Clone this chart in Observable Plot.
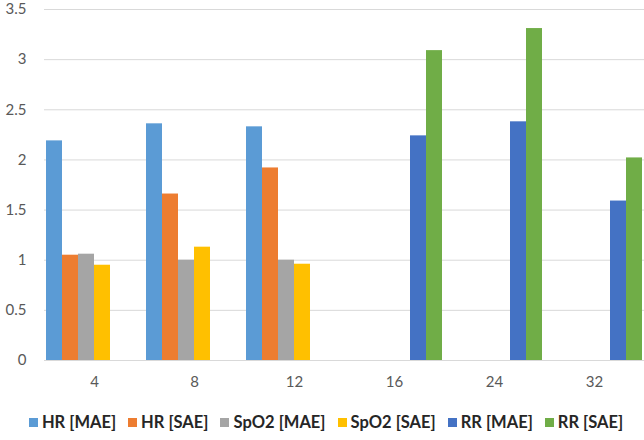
<!DOCTYPE html>
<html>
<head>
<meta charset="utf-8">
<script src="https://cdn.jsdelivr.net/npm/d3@7"></script>
<script src="https://cdn.jsdelivr.net/npm/@observablehq/plot@0.6"></script>
<style>
  body { margin: 0; background: #fff; font-family: Lato, "Open Sans", sans-serif; }
  #chart { width: 644px; }
  .legend { display: flex; justify-content: center; gap: 12px; margin-top: 12px; font-weight: bold; font-size: 16.5px; color: #262626; padding-left: 8px; }
  .legend .item { display: flex; align-items: center; gap: 4px; }
  .legend .sw { width: 9px; height: 9px; display: inline-block; }
</style>
</head>
<body>
<div id="chart"></div>
<script>
const categories = ["4", "8", "12", "16", "24", "32"];
const series = ["HR [MAE]", "HR [SAE]", "SpO2 [MAE]", "SpO2 [SAE]", "RR [MAE]", "RR [SAE]"];
const colors = ["#5B9BD5", "#ED7D31", "#A5A5A5", "#FFC000", "#4472C4", "#70AD47"];
const hrMAE   = [2.19, 2.36, 2.33, null, null, null];
const hrSAE   = [1.05, 1.66, 1.92, null, null, null];
const spo2MAE = [1.06, 1.00, 1.00, null, null, null];
const spo2SAE = [0.95, 1.13, 0.96, null, null, null];
const rrMAE   = [null, null, null, 2.24, 2.38, 1.59];
const rrSAE   = [null, null, null, 3.09, 3.31, 2.02];
const yTicks = [0, 0.5, 1, 1.5, 2, 2.5, 3, 3.5];

const seriesValues = [hrMAE, hrSAE, spo2MAE, spo2SAE, rrMAE, rrSAE];
const data = [];
categories.forEach((c, i) => {
  series.forEach((s, j) => {
    const v = seriesValues[j][i];
    if (v != null) data.push({category: c, series: s, value: v});
  });
});

const chart = Plot.plot({
  width: 644,
  height: 400,
  marginLeft: 43,
  marginRight: 0,
  marginTop: 9,
  marginBottom: 40,
  style: {fontFamily: "Lato, 'Open Sans', sans-serif", fontSize: "15px", color: "#595959", background: "#fff"},
  fx: {domain: categories, padding: 0, axis: "bottom", tickSize: 0, tickPadding: 16, label: null},
  x: {domain: series, padding: 0, axis: null},
  y: {domain: [0, 3.5], ticks: yTicks, tickFormat: d => String(d), tickSize: 0, tickPadding: 18, label: null},
  color: {domain: series, range: colors},
  marks: [
    Plot.ruleY(yTicks, {stroke: "#d9d9d9", strokeWidth: 1}),
    Plot.barY(data, {fx: "category", x: "series", y: "value", fill: "series", inset: 0})
  ]
});
document.getElementById("chart").appendChild(chart);

const legend = document.createElement("div");
legend.className = "legend";
series.forEach((s, j) => {
  const item = document.createElement("span");
  item.className = "item";
  const sw = document.createElement("span");
  sw.className = "sw";
  sw.style.background = colors[j];
  const t = document.createElement("span");
  t.textContent = s;
  item.appendChild(sw);
  item.appendChild(t);
  legend.appendChild(item);
});
document.body.appendChild(legend);
</script>
</body>
</html>
